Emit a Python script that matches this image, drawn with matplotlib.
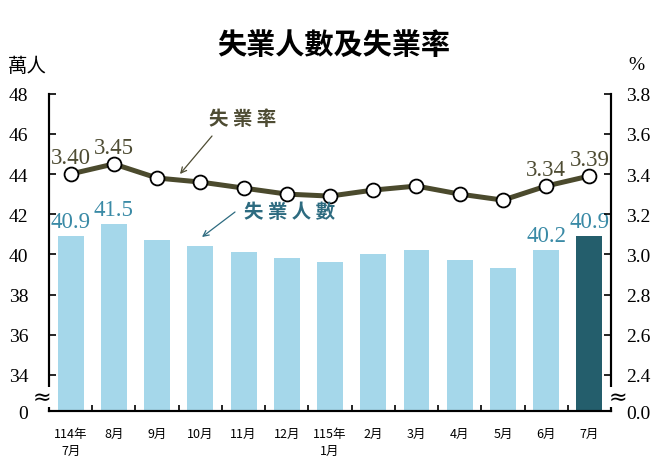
import matplotlib
matplotlib.use('Agg')
import matplotlib.pyplot as plt
import numpy as np

plt.rcParams['font.family'] = ['Liberation Serif', 'Noto Sans CJK TC']

months = ['114年\n7月', '8月', '9月', '10月', '11月', '12月', '115年\n1月',
          '2月', '3月', '4月', '5月', '6月', '7月']
unemployed = [40.9, 41.5, 40.7, 40.4, 40.1, 39.8, 39.6, 40.0, 40.2, 39.7, 39.3, 40.2, 40.9]
rate = [3.40, 3.45, 3.38, 3.36, 3.33, 3.30, 3.29, 3.32, 3.34, 3.30, 3.27, 3.34, 3.39]
left_ticks = [34, 36, 38, 40, 42, 44, 46, 48]
right_ticks = [2.4, 2.6, 2.8, 3.0, 3.2, 3.4, 3.6, 3.8]
bar_labels_idx = [0, 1, 11, 12]
rate_labels_idx = [0, 1, 11, 12]

BAR_C = '#a5d7ea'
BAR_LAST = '#245e6c'
LINE_C = '#4b4a2d'
NUM_BLUE = '#3a8aa6'
NUM_OLIVE = '#4e4c33'
LBL_BLUE = '#2d6b80'
CJK = ['Noto Sans CJK TC']
H = 464

fig = plt.figure(figsize=(6.68, 4.64), dpi=100)
ax = fig.add_axes([0.0734, 0.112, 0.8413, 0.684])
ax2 = ax.twinx()

x = np.arange(len(months))
colors = [BAR_C] * (len(months) - 1) + [BAR_LAST]
ax.bar(x, unemployed, width=0.6, color=colors, zorder=2)
ax.set_xlim(-0.5, len(months) - 0.5)
ax.set_ylim(32.2, 48)
ax.set_yticks([32.2] + left_ticks)
ax.set_yticklabels(['0'] + [str(t) for t in left_ticks], fontsize=14)
ax.set_xticks(x)
ax.set_xticklabels([])
ax.set_xticks(np.arange(0.5, len(months) - 0.5), minor=True)
ax.tick_params(axis='x', which='major', length=0)
ax.tick_params(axis='x', which='minor', direction='in', length=4, width=1.2)
ax.tick_params(axis='y', direction='in', length=5, width=1.2, pad=15)
for i, m in enumerate(months):
    ax.text(i, -0.05, m, transform=ax.get_xaxis_transform(), ha='center', va='top',
            fontsize=9, family=CJK, linespacing=1.45)

for i in bar_labels_idx:
    ax.text(i, unemployed[i] + 0.2, f'{unemployed[i]:.1f}', ha='center', va='bottom',
            fontsize=16.5, color=NUM_BLUE, zorder=5)

ax2.plot(x, rate, color=LINE_C, lw=3.6, marker='o', markersize=10,
         markerfacecolor='white', markeredgecolor='black', markeredgewidth=1.3, zorder=4)
ax2.set_ylim(2.22, 3.8)
ax2.set_yticks([2.22] + right_ticks)
ax2.set_yticklabels(['0.0'] + [f'{t:.1f}' for t in right_ticks], fontsize=14)
ax2.tick_params(axis='y', direction='in', length=5, width=1.2, pad=11)
for i in rate_labels_idx:
    ax2.text(i, rate[i] + 0.03, f'{rate[i]:.2f}', ha='center', va='bottom',
             fontsize=16.5, color=NUM_OLIVE, zorder=5)

for a in (ax, ax2):
    a.spines['top'].set_visible(False)
    for s in ('left', 'right', 'bottom'):
        a.spines[s].set_linewidth(1.5)

# series annotations with arrows
fig.text(243 / 668, 1 - 120 / H, '失 業 率', fontsize=14, fontweight='bold',
         color=NUM_OLIVE, family=CJK, ha='center', va='center')
ax.annotate('', xy=(180, H - 175), xytext=(212, H - 137), xycoords='figure pixels',
            textcoords='figure pixels',
            arrowprops=dict(arrowstyle='->', color=NUM_OLIVE, lw=0.9,
                            shrinkA=0, shrinkB=0), annotation_clip=False)
fig.text(290 / 668, 1 - 213 / H, '失 業 人 數', fontsize=14, fontweight='bold',
         color=LBL_BLUE, family=CJK, ha='center', va='center')
ax.annotate('', xy=(202, H - 238), xytext=(235, H - 213), xycoords='figure pixels',
            textcoords='figure pixels',
            arrowprops=dict(arrowstyle='->', color=LBL_BLUE, lw=0.9,
                            shrinkA=0, shrinkB=0), annotation_clip=False)

# axis break marks
for xf in (-0.012, 1.012):
    ax2.text(xf, 0.045, '≈', transform=ax.transAxes, ha='center', va='center',
             fontsize=16, family=['DejaVu Sans'],
             bbox=dict(facecolor='white', edgecolor='none', pad=0.1), zorder=10,
             clip_on=False)

fig.text(27 / 668, 1 - 66 / H, '萬人', fontsize=14, family=CJK, ha='center', va='center')
fig.text(636 / 668, 1 - 66 / H, '%', fontsize=14, ha='center', va='center')
fig.text(0.5, 1 - 45 / H, '失業人數及失業率', fontsize=21, fontweight='bold', family=CJK,
         ha='center', va='center')

fig.savefig('out.png', dpi=100, facecolor='white')
